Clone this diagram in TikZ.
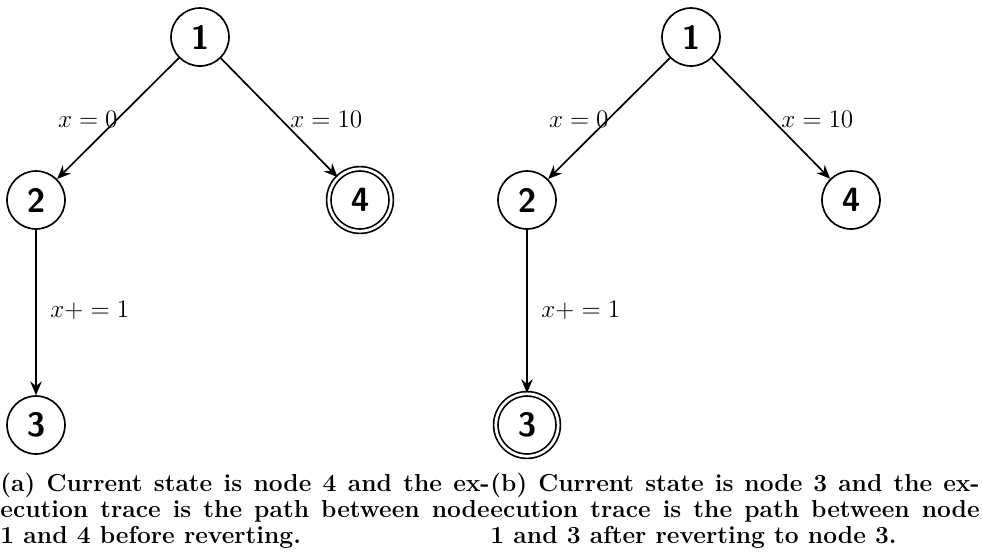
\documentclass[tikz,border=0pt]{standalone}
\usetikzlibrary{arrows.meta}
\begin{document}
\begin{tikzpicture}[x=0.4762pt,y=-0.4762pt,
  state/.style={circle,draw,thick,minimum size=27.6pt,inner sep=0pt,
    font=\fontsize{16}{18}\selectfont\sffamily\bfseries},
  endstate/.style={state,double,double distance=1.3pt,minimum size=29.7pt},
  trans/.style={thick,-{Stealth[length=6.5pt,width=5.5pt]}},
  lbl/.style={inner sep=0pt,font=\fontsize{11.7}{14}\selectfont},
  captext/.style={anchor=north west,inner sep=0pt,text width=233pt,align=justify,
    font=\fontsize{11.7}{12.2}\selectfont\bfseries}]
\useasboundingbox (0,0) rectangle (982,556);

% (a) before reverting: current state is node 4
\node[state] (a1) at (200,37) {1};
\node[state] (a2) at (36,200) {2};
\node[endstate] (a4) at (360,200) {4};
\node[state] (a3) at (36,425) {3};
\draw[trans] (a1) -- (a2);
\draw[trans] (a1) -- (a4);
\draw[trans] (a2) -- (a3);
\node[lbl,anchor=east] (la0) at (118,119) {$x=0$};
\node[lbl,anchor=west] (la10) at (290,119) {$x=10$};
\node[lbl,anchor=west] (la1) at (50,310) {$x{+}=1$};
\node[captext] (capa) at (0,473) {(a) Current state is node 4 and the ex-\linebreak
  ecution trace is the path between node\linebreak 1 and 4 before reverting.};

% (b) after reverting: current state is node 3
\begin{scope}[xshift=491*0.4762pt]
\node[state] (b1) at (200,37) {1};
\node[state] (b2) at (36,200) {2};
\node[state] (b4) at (360,200) {4};
\node[endstate] (b3) at (36,425) {3};
\draw[trans] (b1) -- (b2);
\draw[trans] (b1) -- (b4);
\draw[trans] (b2) -- (b3);
\node[lbl,anchor=east] (lb0) at (118,119) {$x=0$};
\node[lbl,anchor=west] (lb10) at (290,119) {$x=10$};
\node[lbl,anchor=west] (lb1) at (50,310) {$x{+}=1$};
\node[captext] (capb) at (-1,473) {(b) Current state is node 3 and the ex-\linebreak
  ecution trace is the path between node\linebreak 1 and 3 after reverting to node 3.};
\end{scope}
\end{tikzpicture}
\end{document}
